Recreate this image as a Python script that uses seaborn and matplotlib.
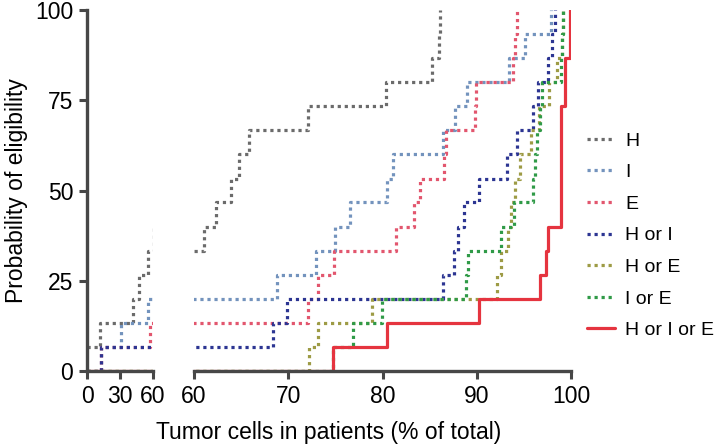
import numpy as np
import pandas as pd
import seaborn as sns
import matplotlib.pyplot as plt

# probability levels (15 patients -> steps of 6.7 %)
levels = [0, 6.7, 13.3, 20, 26.7, 33.3, 40, 46.7, 53.3, 60, 66.7, 73.3, 80, 86.7, 93.3, 100]

series_names = ['H', 'I', 'E', 'H or I', 'H or E', 'I or E', 'H or I or E']

# x = tumor cell % where the curve steps up, y = level reached there
h_x = [0, 11.5, 41.8, 47.3, 55.5, 61.1, 62.3, 63.9, 64.8, 65.8, 72.1, 80.4, 85.3, 86.0, 86.1]
h_y = levels[1:]
i_x = [0, 13, 30.6, 55.5, 68.8, 72.9, 75.0, 76.6, 80.5, 81.1, 86.4, 87.7, 89.0, 93.4, 95.1, 97.9]
i_y = levels
e_x = [0, 13, 57, 72.1, 73.2, 74.9, 81.4, 83.3, 84.0, 86.5, 86.7, 89.8, 89.9, 93.8, 94.1, 94.3]
e_y = levels
hi_x = [0, 13, 68.4, 69.9, 86.4, 87.6, 88.0, 88.6, 90.2, 93.2, 94.3, 96.0, 96.5, 97.6, 98.0, 98.3]
hi_y = levels
he_x = [0, 72.2, 73.2, 78.9, 92.1, 92.6, 93.3, 93.6, 94.1, 94.6, 95.8, 96.6, 97.7, 98.5, 99.0, 99.1]
he_y = levels
ie_x = [0, 74.8, 76.9, 79.9, 88.9, 89.1, 92.6, 94.0, 96.0, 96.2, 96.4, 96.7, 96.9, 98.9, 99.0, 99.1]
ie_y = levels
hie_x = [0, 74.8, 80.5, 90.2, 96.7, 97.3, 97.6, 98.9, 98.9, 98.9, 98.9, 98.9, 99.4, 99.4, 99.9, 99.9]
hie_y = levels

all_x = [h_x, i_x, e_x, hi_x, he_x, ie_x, hie_x]
all_y = [h_y, i_y, e_y, hi_y, he_y, ie_y, hie_y]

frames = []
for name, xs, ys in zip(series_names, all_x, all_y):
    frames.append(pd.DataFrame({'tumor': xs, 'prob': ys, 'group': name}))
df = pd.concat(frames, ignore_index=True)

colors = {'H': '#6b6b6b', 'I': '#7393bd', 'E': '#e2566e', 'H or I': '#2c3592',
          'H or E': '#9d9b45', 'I or E': '#2f9a47', 'H or I or E': '#e5343f'}
dashes = {'H': (1, 1.2), 'I': (1, 1.2), 'E': (1, 1.2), 'H or I': (1, 1.2),
          'H or E': (1, 1.2), 'I or E': (1, 1.2), 'H or I or E': ''}

sns.set_theme(style='ticks')
plt.rcParams['font.family'] = ['Liberation Sans', 'DejaVu Sans']
plt.rcParams['text.color'] = 'black'
plt.rcParams['xtick.labelcolor'] = 'black'
plt.rcParams['ytick.labelcolor'] = 'black'
plt.rcParams['axes.labelcolor'] = 'black'

fig = plt.figure(figsize=(7.16, 4.46), dpi=100)
ax1 = fig.add_axes([87 / 716, 75 / 446, 66 / 716, 361 / 446])
ax2 = fig.add_axes([194 / 716, 75 / 446, 377 / 716, 361 / 446])

for ax, show_leg in [(ax1, False), (ax2, True)]:
    sns.lineplot(data=df, x='tumor', y='prob', hue='group', style='group',
                 hue_order=series_names, style_order=series_names,
                 palette=colors, dashes=dashes, estimator=None, sort=False,
                 drawstyle='steps-post', linewidth=2.3, legend=show_leg, ax=ax)

spine_col = '#474747'
ax1.set_xlim(0, 60)
ax1.set_ylim(0, 100)
ax1.set_xticks([0, 30, 60])
ax1.set_yticks([0, 25, 50, 75, 100])
ax1.set_xticks([60], minor=True)
ax2.set_xlim(60, 100)
ax2.set_ylim(0, 100)
ax2.set_xticks([60, 70, 80, 90, 100])
ax2.set_xticks([60, 100], minor=True)
ax2.set_yticks([])

for ax in (ax1, ax2):
    sns.despine(ax=ax)
    ax.set_xlabel('')
    ax.set_ylabel('')
    for s in ('left', 'bottom'):
        ax.spines[s].set_color(spine_col)
        ax.spines[s].set_linewidth(2.4)
    ax.tick_params(which='major', direction='out', length=6, width=2.2,
                   color=spine_col, labelsize=16.5, pad=4)
    ax.tick_params(axis='x', which='minor', direction='inout', length=12,
                   width=2.2, color=spine_col)
ax2.spines['left'].set_visible(False)

ax1.set_ylabel('Probability of eligibility', fontsize=16.5, labelpad=5)
fig.text(329 / 716, 1 - 433 / 446, 'Tumor cells in patients (% of total)',
         fontsize=16.5, ha='center', va='center')

handles, labels = ax2.get_legend_handles_labels()
ax2.legend(handles, labels, frameon=False, fontsize=14, loc='upper left',
           bbox_to_anchor=(587 / 716, 1 - 132 / 446), bbox_transform=fig.transFigure,
           borderaxespad=0, borderpad=0, handlelength=1.45, handletextpad=0.5,
           labelspacing=0.72)

fig.savefig('out.png', dpi=100)
